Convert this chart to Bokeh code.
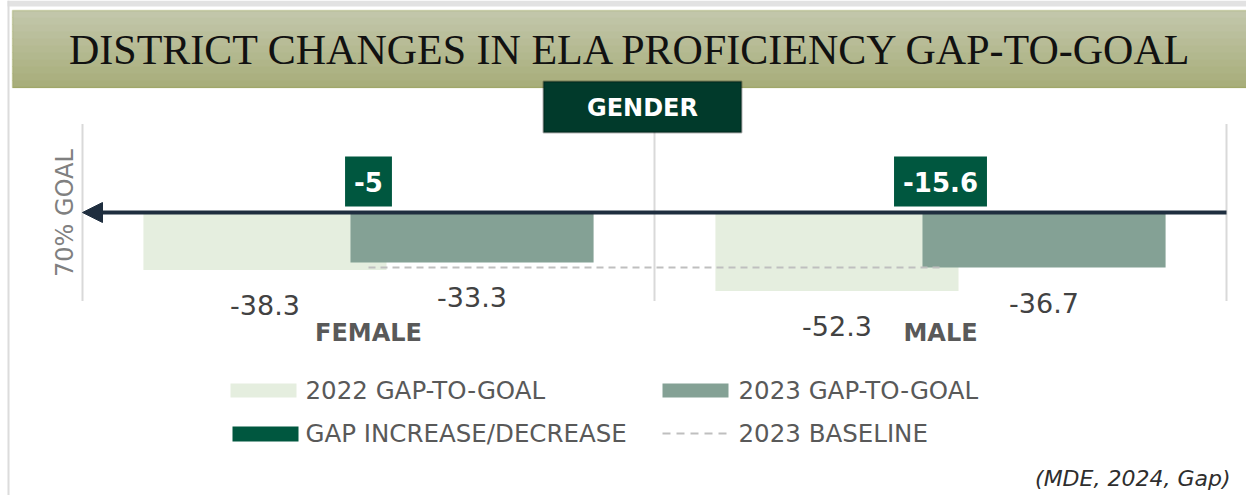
import math
from bokeh.plotting import figure
from bokeh.models import (Range1d, ColumnDataSource, LabelSet, Label,
                          BoxAnnotation, Arrow, NormalHead)
from bokeh.core.properties import value
from bokeh.embed import file_html
from bokeh.resources import INLINE

# ---------------- data ----------------
categories = ["FEMALE", "MALE"]
gap_2022 = [-38.3, -52.3]
gap_2023 = [-33.3, -36.7]
labels_2022 = ["-38.3", "-52.3"]
labels_2023 = ["-33.3", "-36.7"]
change_labels = ["-5", "-15.6"]
baseline_2023 = [-36.7, -36.7]
legend_labels = ["2022 GAP-TO-GOAL", "2023 GAP-TO-GOAL",
                 "GAP INCREASE/DECREASE", "2023 BASELINE"]
title_text = "DISTRICT CHANGES IN ELA PROFICIENCY GAP-TO-GOAL"
section_text = "GENDER"
axis_text = "70% GOAL"
source_text = "(MDE, 2024, Gap)"

# ---------------- styles ----------------
C2022 = "#e5eedf"
C2023 = "#84a195"
CCHG = "#00573f"
CNAVY = "#1f2e3f"
CGRID = "#d9d9d9"
CDASH = "#bfbfbf"
SANS = "DejaVu Sans"

W, H = 1246, 495
# plot area: x 82..1226 px holds the two categories, y=0 at 212 px, 1.5 px per unit
XPX = 572.0
YPX = 1.5
X0, Y0 = 82, 212
x_range = Range1d(-X0 / XPX, 2 + (W - 1226) / XPX)
y_range = Range1d(-(H - Y0) / YPX, Y0 / YPX)
YLIM = 59  # extent of plot area (+/-)

p = figure(width=W, height=H, x_range=x_range, y_range=y_range,
           output_backend="svg", toolbar_location=None,
           min_border=0, min_border_left=0, min_border_right=0,
           min_border_top=0, min_border_bottom=0)
p.outline_line_color = None
p.background_fill_color = "white"
p.border_fill_color = "white"
p.xaxis.visible = False
p.yaxis.visible = False
p.xgrid.visible = False
p.ygrid.visible = False

cat_x = [i + 0.5 for i in range(len(categories))]
OFF = 0.181
BW = 0.425
src = ColumnDataSource(dict(cat=categories, cx=cat_x,
                            x22=[c - OFF for c in cat_x], x23=[c + OFF for c in cat_x],
                            v22=gap_2022, v23=gap_2023,
                            l22=labels_2022, l23=labels_2023, base=baseline_2023,
                            chg=change_labels,
                            edge=[i + 1 for i in range(len(categories))]))

# axis line and category boundaries
p.segment(x0=0, y0=-YLIM, x1=0, y1=YLIM, line_color=CGRID, line_width=2)
p.segment(x0="edge", y0=-YLIM, x1="edge", y1=YLIM, source=src,
          line_color=CGRID, line_width=2)

p.vbar(x="x22", top="v22", bottom=0, width=BW, source=src,
       fill_color=C2022, line_color=None)
p.vbar(x="x23", top="v23", bottom=0, width=BW, source=src,
       fill_color=C2023, line_color=None)
p.line(x="cx", y="base", source=src, line_color=CDASH, line_width=2, line_dash="7 5")

# goal arrow
p.add_layout(Arrow(end=NormalHead(size=20, fill_color=CNAVY, line_color=CNAVY),
                   x_start=2, y_start=0, x_end=0, y_end=0,
                   line_color=CNAVY, line_width=4))

# value labels
lab_style = dict(text_font=value(SANS), text_font_size="27px", text_color="#424242",
                 text_align="center", text_baseline="middle", y_offset=-35)
p.add_layout(LabelSet(x="x22", y="v22", text="l22", source=src, **lab_style))
p.add_layout(LabelSet(x="x23", y="v23", text="l23", source=src, **lab_style))

# category labels
p.add_layout(LabelSet(x="cx", y=-YLIM, text="cat", source=src, y_offset=-31.5,
                      text_font=value(SANS), text_font_style="bold", text_font_size="24px",
                      text_color="#595959", text_align="center", text_baseline="middle"))

# change boxes
for i, t in enumerate(change_labels):
    p.add_layout(Label(x=cat_x[i], y=0, y_offset=31, text=t,
                       text_font=SANS, text_font_style="bold", text_font_size="26px",
                       text_color="white", text_align="center", text_baseline="middle",
                       background_fill_color=CCHG, padding=(9, 15)))

# y axis label
p.add_layout(Label(x=64, y=212.5, x_units="canvas", y_units="canvas", text=axis_text,
                   angle=math.pi / 2, text_font=SANS, text_font_size="24px",
                   text_color="#808080", text_align="center", text_baseline="middle"))

# ---------------- decorations (canvas px) ----------------
def cbox(l, r, t, b, **kw):
    return BoxAnnotation(left=l, right=r, top=t, bottom=b,
                         left_units="canvas", right_units="canvas",
                         top_units="canvas", bottom_units="canvas", **kw)

# page rules
p.add_layout(cbox(7, W, 0, 6, fill_color="#e2e2e2", fill_alpha=1, line_color=None))
p.add_layout(cbox(7, 9, 0, H, fill_color="#dcdcdc", fill_alpha=1, line_color=None))

# title bar gradient
top_c = (194, 198, 170)
bot_c = (168, 174, 123)
y0, y1 = 10, 87
n = 11
for k in range(n):
    f = k / (n - 1)
    col = "#%02x%02x%02x" % tuple(int(round(a + (b - a) * f)) for a, b in zip(top_c, bot_c))
    t = y0 + (y1 - y0) * k / n
    b = y0 + (y1 - y0) * (k + 1) / n + 0.6
    p.add_layout(cbox(12, W, t, b, fill_color=col, fill_alpha=1, line_color=None))
p.add_layout(cbox(12, W + 2, y0, y1, fill_alpha=0, line_color="#8e973f", line_width=1.5))
p.add_layout(Label(x=631, y=49, x_units="canvas", y_units="canvas", text=title_text,
                   text_font="Liberation Serif", text_font_size="42px", text_color="#111111",
                   text_align="center", text_baseline="middle"))

# section box
p.add_layout(cbox(543, 741, 81, 132, fill_color="#013a2b", fill_alpha=1,
                  line_color="black", line_width=2))
p.add_layout(Label(x=642, y=107, x_units="canvas", y_units="canvas", text=section_text,
                   text_font=SANS, text_font_style="bold", text_font_size="24px",
                   text_color="white", text_align="center", text_baseline="middle"))

# legend
leg_txt = dict(x_units="canvas", y_units="canvas", text_font=SANS, text_font_size="24.5px",
               text_color="#595959", text_align="left", text_baseline="middle")
p.add_layout(cbox(230, 296, 383, 397, fill_color=C2022, fill_alpha=1, line_color=None))
p.add_layout(Label(x=305, y=390, text=legend_labels[0], **leg_txt))
p.add_layout(cbox(662, 728, 383, 397, fill_color=C2023, fill_alpha=1, line_color=None))
p.add_layout(Label(x=738, y=390, text=legend_labels[1], **leg_txt))
p.add_layout(cbox(232, 298, 426, 441, fill_color=CCHG, fill_alpha=1, line_color=None))
p.add_layout(Label(x=305, y=433, text=legend_labels[2], **leg_txt))
p.add_layout(Arrow(end=None, x_start=662, y_start=433, x_end=728, y_end=433,
                   start_units="canvas", end_units="canvas",
                   line_color=CDASH, line_width=2, line_dash="8 6"))
p.add_layout(Label(x=738, y=433, text=legend_labels[3], **leg_txt))

# source note
p.add_layout(Label(x=1230, y=478, x_units="canvas", y_units="canvas", text=source_text,
                   text_font=SANS, text_font_style="italic", text_font_size="22px",
                   text_color="#2e2e2e", text_align="right", text_baseline="middle"))

open("out.html", "w").write(file_html(p, INLINE))
